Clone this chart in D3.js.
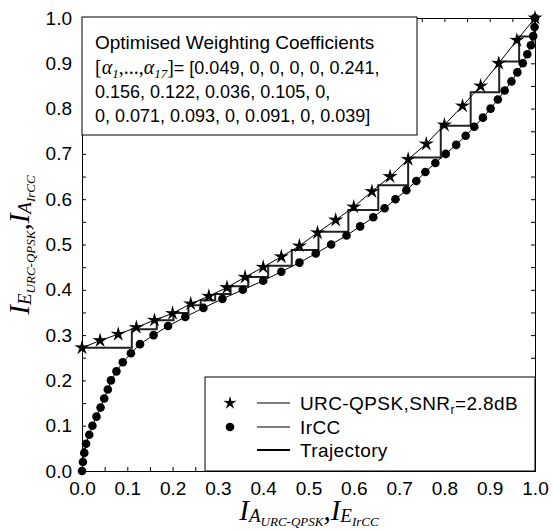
<!DOCTYPE html>
<html>
<head>
<meta charset="utf-8">
<script src="https://cdn.jsdelivr.net/npm/d3@7"></script>
<style>
  body { margin: 0; background: #fff; }
  svg { display: block; }
  .tick text { font-family: "Liberation Sans", Arial, sans-serif; font-size: 19px; fill: #000; }
  .domain, .tick line { stroke: #000; stroke-width: 1; }
</style>
</head>
<body>
<svg id="chart" width="554" height="531"></svg>
<script>
// URC-QPSK EXIT curve (stars)
var starX = [0.00, 0.04, 0.08, 0.12, 0.16, 0.20, 0.24, 0.28, 0.32, 0.36, 0.40, 0.44, 0.48,
             0.52, 0.56, 0.60, 0.64, 0.68, 0.72, 0.76, 0.80, 0.84, 0.88, 0.92, 0.96, 1.00];
var starY = [0.272, 0.288, 0.302, 0.317, 0.333, 0.348, 0.369, 0.386, 0.405, 0.428, 0.450, 0.473, 0.497,
             0.526, 0.554, 0.583, 0.617, 0.650, 0.688, 0.722, 0.764, 0.806, 0.850, 0.900, 0.951, 1.000];

// IrCC inverted EXIT curve (circles)
var circX = [0.000, 0.002, 0.005, 0.009, 0.016, 0.023, 0.032, 0.041, 0.049, 0.057, 0.064,
             0.076, 0.090, 0.108, 0.128, 0.158, 0.190, 0.228, 0.268, 0.310, 0.355,
             0.400, 0.440, 0.480, 0.516, 0.550, 0.584, 0.614, 0.643, 0.668, 0.692,
             0.716, 0.738, 0.758, 0.780, 0.803, 0.826, 0.847, 0.866, 0.885, 0.902,
             0.918, 0.933, 0.948, 0.961, 0.973, 0.983, 0.991, 0.996, 0.999, 1.000];
var circY = [0.00, 0.02, 0.04, 0.06, 0.08, 0.10, 0.12, 0.14, 0.16, 0.18, 0.20,
             0.22, 0.24, 0.26, 0.28, 0.30, 0.32, 0.34, 0.36, 0.38, 0.40,
             0.42, 0.44, 0.46, 0.48, 0.50, 0.52, 0.54, 0.56, 0.58, 0.60,
             0.62, 0.64, 0.66, 0.68, 0.70, 0.72, 0.74, 0.76, 0.78, 0.80,
             0.82, 0.84, 0.86, 0.88, 0.90, 0.92, 0.94, 0.96, 0.98, 1.00];

// decoding trajectory corners (horizontal first, then vertical)
var trajX = [0.000, 0.110, 0.165, 0.202, 0.235, 0.262, 0.294, 0.328, 0.367, 0.411,
             0.463, 0.522, 0.588, 0.654, 0.720, 0.792, 0.858, 0.921, 0.965, 1.000];
var trajY = [0.272, 0.313, 0.333, 0.349, 0.366, 0.377, 0.391, 0.408, 0.428, 0.453,
             0.488, 0.528, 0.576, 0.631, 0.692, 0.762, 0.836, 0.904, 0.959, 1.000];

var majorTicks = [0, 0.1, 0.2, 0.3, 0.4, 0.5, 0.6, 0.7, 0.8, 0.9, 1.0];
var minorTicks = [0.05, 0.15, 0.25, 0.35, 0.45, 0.55, 0.65, 0.75, 0.85, 0.95];
var tickLabels = ["0.0", "0.1", "0.2", "0.3", "0.4", "0.5", "0.6", "0.7", "0.8", "0.9", "1.0"];

var coeffLines = ["= [0.049, 0, 0, 0, 0, 0.241,",
                  "0.156, 0.122, 0.036, 0.105, 0,",
                  "0, 0.071, 0.093, 0, 0.091, 0, 0.039]"];

var SANS = '"Liberation Sans", Arial, sans-serif';
var SERIF = '"Liberation Serif", "Times New Roman", serif';

var svg = d3.select('#chart');
var plot = {left: 82, right: 535, top: 18, bottom: 471};

var x = d3.scaleLinear().domain([0, 1]).range([plot.left, plot.right]);
var y = d3.scaleLinear().domain([0, 1]).range([plot.bottom, plot.top]);

function fmt(d) { return tickLabels[majorTicks.indexOf(d)]; }

// axes: labelled major ticks, unlabelled minor ticks, all pointing inward
svg.append('g').attr('transform', 'translate(0,' + plot.bottom + ')')
    .call(d3.axisBottom(x).tickValues(majorTicks).tickFormat(fmt).tickSizeInner(-4).tickSizeOuter(0).tickPadding(11));
svg.append('g').attr('transform', 'translate(0,' + plot.bottom + ')')
    .call(d3.axisBottom(x).tickValues(minorTicks).tickFormat('').tickSizeInner(-4).tickSizeOuter(0));
svg.append('g').attr('transform', 'translate(' + plot.left + ',0)')
    .call(d3.axisLeft(y).tickValues(majorTicks).tickFormat(fmt).tickSizeInner(-4).tickSizeOuter(0).tickPadding(10));
svg.append('g').attr('transform', 'translate(' + plot.left + ',0)')
    .call(d3.axisLeft(y).tickValues(minorTicks).tickFormat('').tickSizeInner(-4).tickSizeOuter(0));
svg.append('g').attr('transform', 'translate(0,' + plot.top + ')')
    .call(d3.axisTop(x).tickValues(majorTicks.concat(minorTicks)).tickFormat('').tickSizeInner(-4).tickSizeOuter(0));
svg.append('g').attr('transform', 'translate(' + plot.right + ',0)')
    .call(d3.axisRight(y).tickValues(majorTicks.concat(minorTicks)).tickFormat('').tickSizeInner(-4).tickSizeOuter(0));

svg.selectAll('.tick text').attr('fill', '#000');

// thin star shaped marker
function starPath(cx, cy, R) {
    var r = R * 0.34, p = d3.path();
    for (var i = 0; i < 10; i++) {
        var a = -Math.PI / 2 + i * Math.PI / 5;
        var rr = (i % 2 === 0) ? R : r;
        if (i === 0) p.moveTo(cx + rr * Math.cos(a), cy + rr * Math.sin(a));
        else p.lineTo(cx + rr * Math.cos(a), cy + rr * Math.sin(a));
    }
    p.closePath();
    return p.toString();
}

var line = d3.line().x(d => x(d[0])).y(d => y(d[1]));
var starPts = starX.map((v, i) => [v, starY[i]]);
var circPts = circX.map((v, i) => [v, circY[i]]);
var trajPts = trajX.map((v, i) => [v, trajY[i]]);

svg.append('path').datum(trajPts)
    .attr('d', line.curve(d3.curveStepAfter))
    .attr('fill', 'none').attr('stroke', '#222').attr('stroke-width', 2);
line.curve(d3.curveLinear);

svg.append('path').datum(starPts).attr('d', line)
    .attr('fill', 'none').attr('stroke', '#000').attr('stroke-width', 1);
svg.append('path').datum(circPts).attr('d', line)
    .attr('fill', 'none').attr('stroke', '#000').attr('stroke-width', 1);

svg.selectAll('path.star').data(starPts).enter().append('path')
    .attr('class', 'star')
    .attr('d', d => starPath(x(d[0]), y(d[1]), 8))
    .attr('fill', '#000');

svg.selectAll('circle.irc').data(circPts).enter().append('circle')
    .attr('class', 'irc')
    .attr('cx', d => x(d[0])).attr('cy', d => y(d[1])).attr('r', 4.3)
    .attr('fill', '#000');

// coefficient box
svg.append('rect').attr('x', plot.left).attr('y', 17).attr('width', 335).attr('height', 118)
    .attr('fill', '#fff').attr('stroke', '#000').attr('stroke-width', 1);

svg.append('text').attr('x', 95).attr('y', 49)
    .style('font-family', SANS).style('font-size', '19px')
    .text('Optimised Weighting Coefficients');

var t2 = svg.append('text').attr('x', 95).attr('y', 74).style('font-size', '18px');
t2.append('tspan').style('font-family', SERIF).style('font-size', '20px').text('[');
t2.append('tspan').style('font-family', SERIF).style('font-style', 'italic').style('font-size', '20px').text('α');
t2.append('tspan').style('font-family', SERIF).style('font-style', 'italic').style('font-size', '13px').attr('dy', 4).text('1');
t2.append('tspan').style('font-family', SERIF).style('font-size', '20px').attr('dy', -4).text(',...,');
t2.append('tspan').style('font-family', SERIF).style('font-style', 'italic').style('font-size', '20px').text('α');
t2.append('tspan').style('font-family', SERIF).style('font-style', 'italic').style('font-size', '13px').attr('dy', 4).text('17');
t2.append('tspan').style('font-family', SERIF).style('font-size', '20px').attr('dy', -4).text(']');
t2.append('tspan').style('font-family', SANS).text(coeffLines[0]);

svg.append('text').attr('x', 95).attr('y', 98)
    .style('font-family', SANS).style('font-size', '18px').text(coeffLines[1]);
svg.append('text').attr('x', 95).attr('y', 122)
    .style('font-family', SANS).style('font-size', '18px').text(coeffLines[2]);

// legend
svg.append('rect').attr('x', 205).attr('y', 377).attr('width', 330).attr('height', 94)
    .attr('fill', '#fff').attr('stroke', '#000').attr('stroke-width', 1);

var legRows = [403, 427, 450];
svg.append('path').attr('d', starPath(230, legRows[0], 7)).attr('fill', '#000');
svg.append('circle').attr('cx', 230).attr('cy', legRows[1]).attr('r', 4.3).attr('fill', '#000');
legRows.forEach(function(ly, i) {
    svg.append('line').attr('x1', 257).attr('x2', 290).attr('y1', ly).attr('y2', ly)
        .attr('stroke', '#000').attr('stroke-width', i === 2 ? 2 : 1);
});

var legStyle = function(t) {
    return t.style('font-family', SANS).style('font-size', '19px').style('letter-spacing', '0.4px');
};
var l1 = legStyle(svg.append('text').attr('x', 300).attr('y', legRows[0] + 7));
l1.append('tspan').text('URC-QPSK,SNR');
l1.append('tspan').style('font-size', '12px').attr('dy', 4).text('r');
l1.append('tspan').attr('dy', -4).text('=2.8dB');
legStyle(svg.append('text').attr('x', 300).attr('y', legRows[1] + 7)).text('IrCC');
legStyle(svg.append('text').attr('x', 300).attr('y', legRows[2] + 7)).text('Trajectory');

// axis titles
function axisTitle(sel, a, b, c, d) {
    sel.style('font-family', SERIF).style('font-style', 'italic').attr('text-anchor', 'middle');
    sel.append('tspan').style('font-size', '29px').text('I');
    sel.append('tspan').style('font-size', '19px').attr('dy', 2).text(a);
    sel.append('tspan').style('font-size', '13px').attr('dy', 4).text(b);
    sel.append('tspan').style('font-size', '29px').attr('dy', -6).text(',');
    sel.append('tspan').style('font-size', '29px').text('I');
    sel.append('tspan').style('font-size', '19px').attr('dy', 2).text(c);
    sel.append('tspan').style('font-size', '13px').attr('dy', 4).text(d);
}

axisTitle(svg.append('text').attr('x', 309).attr('y', 520), 'A', 'URC-QPSK', 'E', 'IrCC');
axisTitle(svg.append('text').attr('transform', 'translate(29,245) rotate(-90)'), 'E', 'URC-QPSK', 'A', 'IrCC');
</script>
</body>
</html>
